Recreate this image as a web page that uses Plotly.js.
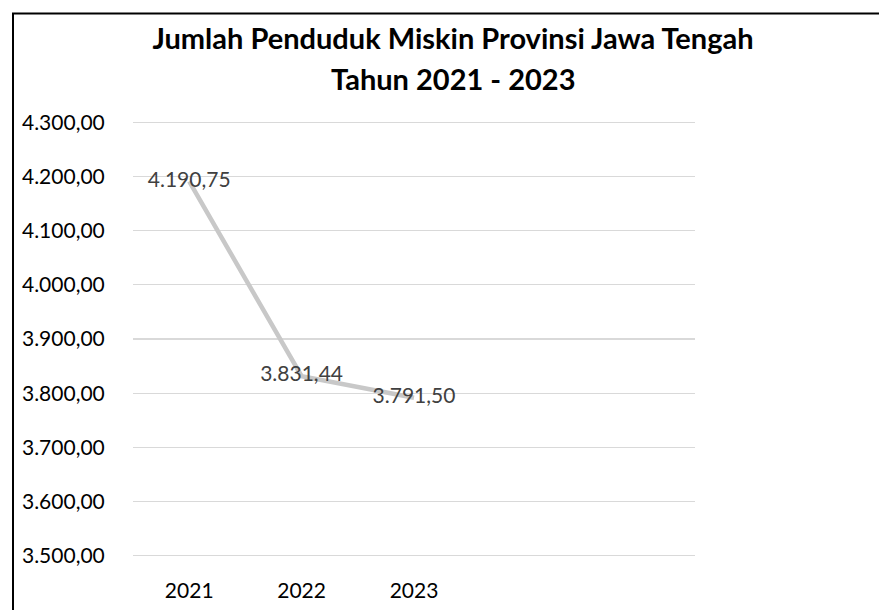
<!DOCTYPE html>
<html>
<head>
<meta charset="utf-8">
<script src="https://cdn.plot.ly/plotly-3.0.1.min.js"></script>
<style>html,body{margin:0;padding:0;background:#fff;}#chart{width:879px;height:610px;}</style>
</head>
<body>
<div id="chart"></div>
<script>
var years = ['2021', '2022', '2023'];
var values = [4190.75, 3831.44, 3791.50];
var yTicks = [3500, 3600, 3700, 3800, 3900, 4000, 4100, 4200, 4300];
var titleLine1 = 'Jumlah Penduduk Miskin Provinsi Jawa Tengah';
var titleLine2 = 'Tahun 2021 - 2023';

function fmtID(v) {
  var parts = v.toFixed(2).split('.');
  var intPart = parts[0].replace(/\B(?=(\d{3})+(?!\d))/g, '.');
  return intPart + ',' + parts[1];
}

var W = 879, H = 610;
var L = 133, R = 695;
var yMin = 3500, yMax = 4300, pad = 6;
var yTopPx = 122, yBotPx = 556;
var pxPerUnit = (yBotPx - yTopPx) / (yMax - yMin);
var T = yTopPx - pad * pxPerUnit, B = yBotPx + pad * pxPerUnit;
function px2x(px) { return (px - L) / (R - L); }
function py2y(py) { return (B - py) / (B - T); }

var trace = {
  type: 'scatter',
  mode: 'lines+text',
  x: years,
  y: values,
  line: {color: '#c8c8c8', width: 4.5},
  text: values.map(fmtID),
  textposition: 'middle center',
  textfont: {family: 'Lato, sans-serif', size: 21, color: '#404040'},
  hoverinfo: 'skip',
  cliponaxis: false
};

var layout = {
  width: W, height: H,
  margin: {l: L, r: W - R, t: T, b: H - B, pad: 0},
  paper_bgcolor: '#ffffff',
  plot_bgcolor: '#ffffff',
  showlegend: false,
  font: {family: 'Lato, sans-serif', color: '#000000'},
  title: {
    text: titleLine1,
    font: {family: 'Lato, sans-serif', size: 29, color: '#000000', weight: 'bold'},
    x: px2x(453),
    xanchor: 'center',
    xref: 'paper',
    y: 1 - 39 / H,
    yanchor: 'middle',
    yref: 'container'
  },
  annotations: [{
    text: '<b>' + titleLine2 + '</b>',
    xref: 'paper', yref: 'paper',
    x: px2x(453), y: py2y(78),
    xanchor: 'center', yanchor: 'middle',
    showarrow: false,
    font: {family: 'Lato, sans-serif', size: 29, color: '#000000'}
  }],
  xaxis: {
    type: 'category',
    range: [-0.5, 4.5],
    showgrid: false,
    zeroline: false,
    showline: false,
    ticks: 'outside', ticklen: 13, tickcolor: 'rgba(0,0,0,0)',
    tickfont: {family: 'Lato, sans-serif', size: 21, color: '#000000'},
    fixedrange: true
  },
  yaxis: {
    range: [yMin - pad, yMax + pad],
    tickvals: yTicks,
    ticktext: yTicks.map(fmtID),
    showgrid: true,
    gridcolor: '#d9d9d9',
    gridwidth: 1.3,
    zeroline: false,
    showline: false,
    ticks: 'outside', ticklen: 23, tickcolor: 'rgba(0,0,0,0)',
    tickfont: {family: 'Lato, sans-serif', size: 21, color: '#000000'},
    fixedrange: true
  },
  shapes: [{
    type: 'rect', xref: 'paper', yref: 'paper',
    x0: px2x(13), x1: px2x(900), y0: py2y(640), y1: py2y(13),
    line: {color: '#000000', width: 2},
    fillcolor: 'rgba(0,0,0,0)',
    layer: 'above'
  }]
};

Plotly.newPlot('chart', [trace], layout, {displayModeBar: false, staticPlot: true});
</script>
</body>
</html>
